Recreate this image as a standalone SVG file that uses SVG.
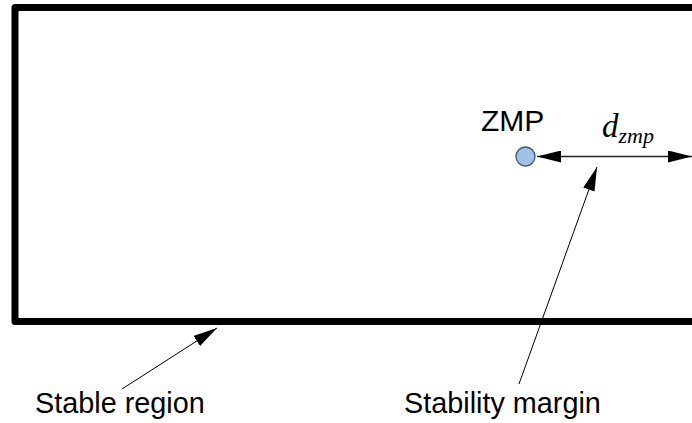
<svg xmlns="http://www.w3.org/2000/svg" width="692" height="423" viewBox="0 0 692 423">
  <style>
    .label { font-family: "Liberation Sans", Arial, sans-serif; font-size: 28.8px; fill: #000; }
    .math { font-family: "Liberation Serif", "Times New Roman", serif; font-style: italic; fill: #000; }
    .lead { stroke: #000; stroke-width: 1; fill: none; }
  </style>
  <defs>
    <marker id="head" viewBox="0 0 24 12" refX="24" refY="6" markerWidth="24" markerHeight="12" markerUnits="userSpaceOnUse" orient="auto-start-reverse">
      <path d="M0,0 L24,6 L0,12 Z" fill="#000"/>
    </marker>
  </defs>

  <!-- support polygon boundary (right side runs past the frame) -->
  <g id="stable-region">
    <rect x="15" y="7.5" width="700" height="314" fill="#fff" stroke="#000" stroke-width="7" stroke-linejoin="round"/>
  </g>

  <g id="zmp">
    <circle cx="525.5" cy="156.5" r="9.5" fill="#9ec3e6" stroke="#41556b" stroke-width="1.3"/>
    <text class="label" x="481" y="131" style="font-size:30px">ZMP</text>
  </g>

  <g id="dzmp-label">
    <text class="math" x="602" y="137" style="font-size:33px">d<tspan style="font-size:22px" dy="6">zmp</tspan></text>
  </g>

  <g id="stable-region-label">
    <text class="label" x="35" y="413">Stable region</text>
  </g>

  <g id="stability-margin-label">
    <text class="label" x="404" y="413">Stability margin</text>
  </g>

  <g id="connectors">
    <line x1="537" y1="156.5" x2="692" y2="156.5" stroke="#222" stroke-width="1.5" marker-start="url(#head)" marker-end="url(#head)"/>
    <line class="lead" x1="519" y1="384" x2="597" y2="167" marker-end="url(#head)"/>
    <line class="lead" x1="122" y1="389" x2="217" y2="328" marker-end="url(#head)"/>
  </g>
</svg>
